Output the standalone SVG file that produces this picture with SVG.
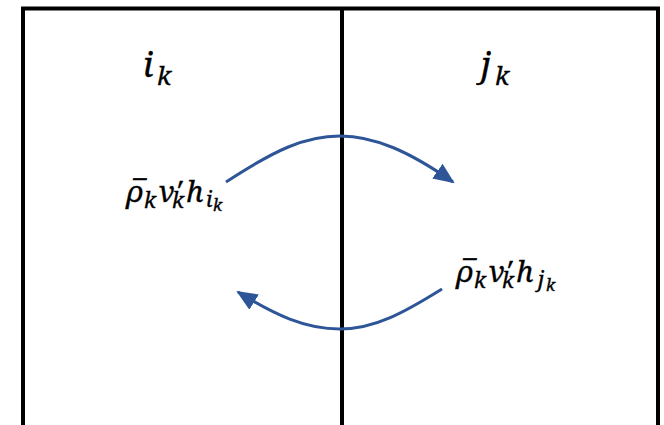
<svg xmlns="http://www.w3.org/2000/svg" width="664" height="425" viewBox="0 0 664 425">
<style>
.box{fill:none;stroke:#000;stroke-width:4}
.m{font-family:"Noto Serif","DejaVu Serif","Liberation Serif",serif;font-style:italic;fill:#000;stroke:#000;stroke-width:0.4}
.big{font-size:34px}
.bs{font-size:25px}
.f{font-size:29px}
.s{font-size:21px}
.ss{font-size:16px}
.arr{fill:none;stroke:#2E5597;stroke-width:3;marker-end:url(#ah)}
</style>
<defs>
<marker id="ah" markerUnits="userSpaceOnUse" markerWidth="22" markerHeight="20" viewBox="0 0 22 20" refX="19" refY="10" orient="auto">
<path d="M0,1 L21,10 L0,19 Z" fill="#2E5597"/>
</marker>
</defs>
<g id="cells">
<path class="box" d="M23,425 V8.5 H658 V425"/>
<line class="box" x1="342" y1="8" x2="342" y2="425"/>
</g>
<g id="cell-i">
<text class="m big" x="143" y="77">i<tspan class="bs" x="157" y="85">k</tspan></text>
</g>
<g id="cell-j">
<text class="m big" x="481" y="77">j<tspan class="bs" x="495" y="85">k</tspan></text>
</g>
<g id="flux-i">
<text class="m f"><tspan x="127" y="202">ρ</tspan><tspan x="130" y="202">¯</tspan><tspan class="s" x="144" y="208">k</tspan><tspan x="159" y="202">v</tspan><tspan x="175" y="202">′</tspan><tspan class="s" x="172" y="208">k</tspan><tspan x="186" y="202">h</tspan><tspan class="s" x="206" y="207">i</tspan><tspan class="ss" x="213" y="211">k</tspan></text>
</g>
<g id="flux-j">
<text class="m f"><tspan x="457" y="282">ρ</tspan><tspan x="460" y="282">¯</tspan><tspan class="s" x="474" y="288">k</tspan><tspan x="489" y="282">v</tspan><tspan x="505" y="282">′</tspan><tspan class="s" x="502" y="288">k</tspan><tspan x="516" y="282">h</tspan><tspan class="s" x="538" y="287">j</tspan><tspan class="ss" x="546" y="291">k</tspan></text>
</g>
<g id="connectors">
<path class="arr" d="M226,182 C275,150 305,136 340,136 C375,136 410,152 453,182"/>
<path class="arr" d="M442,289 C405,312 375,329 340,329 C305,329 275,315 238,292"/>
</g>
</svg>
